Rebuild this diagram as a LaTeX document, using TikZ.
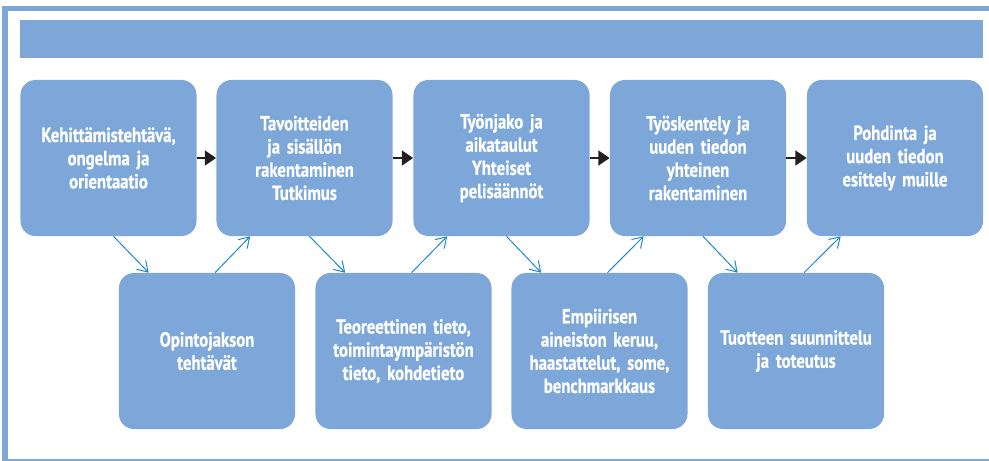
\documentclass[tikz,border=0pt]{standalone}
\usepackage{fontspec}
\setmainfont{PT Sans}[FakeStretch=0.82, BoldFeatures={FakeBold=0.6}]
\usetikzlibrary{arrows.meta, calc}

\definecolor{boxblue}{RGB}{124,167,216}
\definecolor{linkblue}{RGB}{31,135,200}
\definecolor{darkarrow}{RGB}{35,31,32}

\tikzset{
  phase/.style = {fill = boxblue, rounded corners = 0.375cm,
    minimum width = 4.4cm, minimum height = 3.9cm, text width = 4.2cm,
    inner xsep = 0.05cm, align = center, text = white,
    font = \bfseries\fontsize{14.5}{16.5}\selectfont},
  flow/.style = {darkarrow, line width = 2pt,
    -{Triangle[length = 0.28cm, width = 0.36cm]}},
  link/.style = {linkblue, line width = 0.7pt,
    -{Straight Barb[length = 0.25cm, width = 0.32cm]}}
}

\begin{document}
\begin{tikzpicture}[x = 0.025cm, y = -0.025cm]

      \useasboundingbox (0, 0) rectangle (989, 461);
      \clip (0, 0) rectangle (989, 461);

      % frame and header bar
      \draw[boxblue, line width = 0.13cm] (5, 8.5) rectangle (1000, 461.5);
      \fill[boxblue] (20, 20) rectangle (983, 58);

      % upper row
      \node[phase] (top1) at (108.5, 158) {Kehittämistehtävä,\\ ongelma ja\\ orientaatio};
      \node[phase] (top2) at (304.5, 158) {Tavoitteiden\\ ja sisällön\\ rakentaminen\\ Tutkimus};
      \node[phase] (top3) at (501.5, 158) {Työnjako ja\\ aikataulut\\ Yhteiset\\ pelisäännöt};
      \node[phase] (top4) at (698, 158) {Työskentely ja\\ uuden tiedon\\ yhteinen\\ rakentaminen};
      \node[phase] (top5) at (895, 158) {Pohdinta ja\\ uuden tiedon\\ esittely muille};

      % lower row
      \node[phase] (low1) at (207, 351) {Opintojakson\\ tehtävät};
      \node[phase] (low2) at (403.5, 351) {Teoreettinen tieto,\\ toimintaympäristön\\ tieto, kohdetieto};
      \node[phase] (low3) at (599.5, 351) {Empiirisen\\ aineiston keruu,\\ haastattelut, some,\\ benchmarkkaus};
      \node[phase] (low4) at (796, 351) {Tuotteen suunnittelu\\ ja toteutus};

      \draw[flow] (top1.east) -- (top2.west);
      \draw[flow] (top2.east) -- (top3.west);
      \draw[flow] (top3.east) -- (top4.west);
      \draw[flow] (top4.east) -- (top5.west);

      \draw[link] ($(top1.south) + (5, 0)$) -- ($(low1.north west) + (30, 0)$);
      \draw[link] ($(low1.north) + (8, 0)$) -- ($(top2.south west) + (34, 0)$);
      \draw[link] ($(top2.south) + (5, 0)$) -- ($(low2.north west) + (30, 0)$);
      \draw[link] ($(low2.north) + (8, 0)$) -- ($(top3.south west) + (34, 0)$);
      \draw[link] ($(top3.south) + (5, 0)$) -- ($(low3.north west) + (30, 0)$);
      \draw[link] ($(low3.north) + (8, 0)$) -- ($(top4.south west) + (34, 0)$);
      \draw[link] ($(top4.south) + (5, 0)$) -- ($(low4.north west) + (30, 0)$);
      \draw[link] ($(low4.north) + (8, 0)$) -- ($(top5.south west) + (34, 0)$);

\end{tikzpicture}
\end{document}
